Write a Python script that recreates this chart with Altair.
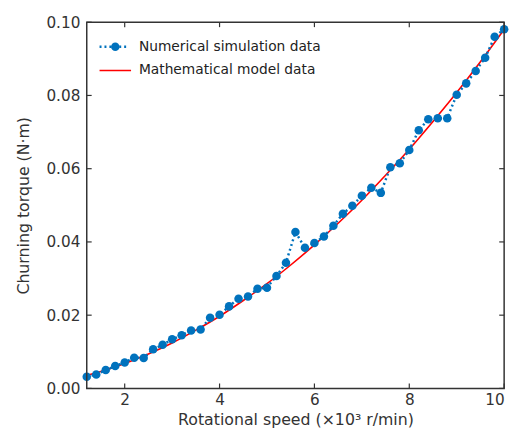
import altair as alt
import pandas as pd

# Numerical simulation data (x in 10^3 r/min, torque in N·m)
sim_x = [1.2, 1.4, 1.6, 1.8, 2.0, 2.2, 2.4, 2.6, 2.8, 3.0, 3.2, 3.4, 3.6, 3.8, 4.0,
         4.2, 4.4, 4.6, 4.8, 5.0, 5.2, 5.4, 5.6, 5.8, 6.0, 6.2, 6.4, 6.6, 6.8, 7.0,
         7.2, 7.4, 7.6, 7.8, 8.0, 8.2, 8.4, 8.6, 8.8, 9.0, 9.2, 9.4, 9.6, 9.8, 10.0]
sim_y = [0.0032, 0.0038, 0.0050, 0.0061, 0.0071, 0.0084, 0.0083, 0.0107, 0.0119, 0.0134,
         0.0145, 0.0158, 0.0161, 0.0193, 0.0201, 0.0224, 0.0245, 0.0251, 0.0272, 0.0275,
         0.0307, 0.0343, 0.0427, 0.0384, 0.0397, 0.0415, 0.0444, 0.0477, 0.0499, 0.0526,
         0.0548, 0.0534, 0.0604, 0.0615, 0.0651, 0.0705, 0.0735, 0.0738, 0.0738, 0.0802,
         0.0833, 0.0867, 0.0903, 0.0960, 0.0981]

# Mathematical model data
model_x = [1.2, 1.6, 2.0, 2.5, 3.0, 3.5, 4.0, 4.5, 5.0, 5.5, 6.0, 6.5, 7.0, 7.5, 8.0,
           8.5, 9.0, 9.5, 10.0]
model_y = [0.0035, 0.0050, 0.0068, 0.0094, 0.0124, 0.0159, 0.0197, 0.0240, 0.0286, 0.0337,
           0.0392, 0.0451, 0.0514, 0.0582, 0.0653, 0.0729, 0.0808, 0.0892, 0.0980]

x_ticks = [2, 4, 6, 8, 10]
y_ticks = [0.0, 0.02, 0.04, 0.06, 0.08, 0.10]
legend_labels = ["Numerical simulation data", "Mathematical model data"]

W, H = 424, 372
BLUE = "#0072BD"
RED = "#FF0000"
TXT = "#333333"
FONT = "DejaVu Sans"

sim = pd.DataFrame({"x": sim_x, "y": sim_y})
model = pd.DataFrame({"x": model_x, "y": model_y})
xt = pd.DataFrame({"v": x_ticks})
yt = pd.DataFrame({"v": y_ticks})
leg_df = pd.DataFrame({"t": legend_labels})

xscale = alt.Scale(domain=[1.2, 10], nice=False, zero=False)
yscale = alt.Scale(domain=[0, 0.1], nice=False)

common_axis = dict(ticks=False, domain=False, grid=False,
                   labelFont=FONT, titleFont=FONT, labelFontSize=15.5, titleFontSize=16,
                   labelColor=TXT, titleColor=TXT, titleFontWeight="normal")
xax = alt.Axis(values=x_ticks, labelPadding=4, title="Rotational speed (×10³ r/min)",
               titlePadding=4, **common_axis)
yax = alt.Axis(values=y_ticks, format=".2f", labelPadding=7, title="Churning torque (N·m)",
               titlePadding=15, **common_axis)

frame = alt.Chart(leg_df.iloc[[0]]).mark_rect(fill=None, stroke="#333333", strokeWidth=1.5).encode(
    x=alt.value(0), x2=alt.value(W), y=alt.value(0), y2=alt.value(H))

sim_line = alt.Chart(sim).mark_line(color=BLUE, strokeWidth=2.5, strokeDash=[2, 3]).encode(
    x=alt.X("x:Q", scale=xscale, axis=xax),
    y=alt.Y("y:Q", scale=yscale, axis=yax),
)
sim_pts = alt.Chart(sim).mark_circle(color=BLUE, size=75, opacity=1).encode(
    x=alt.X("x:Q", scale=xscale), y=alt.Y("y:Q", scale=yscale)
)
model_line = alt.Chart(model).mark_line(color=RED, strokeWidth=1.6, interpolate="monotone").encode(
    x=alt.X("x:Q", scale=xscale), y=alt.Y("y:Q", scale=yscale)
)

tk = dict(color="#333333", strokeWidth=1.2)
bot_t = alt.Chart(xt).mark_rule(**tk).encode(x=alt.X("v:Q", scale=xscale), y=alt.value(H), y2=alt.value(H - 5))
top_t = alt.Chart(xt).mark_rule(**tk).encode(x=alt.X("v:Q", scale=xscale), y=alt.value(0), y2=alt.value(5))
left_t = alt.Chart(yt).mark_rule(**tk).encode(y=alt.Y("v:Q", scale=yscale), x=alt.value(0), x2=alt.value(5))
right_t = alt.Chart(yt).mark_rule(**tk).encode(y=alt.Y("v:Q", scale=yscale), x=alt.value(W), x2=alt.value(W - 5))

# legend
leg_sim_line = alt.Chart(leg_df.iloc[[0]]).mark_rule(color=BLUE, strokeWidth=2.5, strokeDash=[2, 3]).encode(
    x=alt.value(13), x2=alt.value(43), y=alt.value(25))
leg_sim_pt = alt.Chart(leg_df.iloc[[0]]).mark_circle(color=BLUE, size=75, opacity=1).encode(
    x=alt.value(29), y=alt.value(25))
leg_mod_line = alt.Chart(leg_df.iloc[[1]]).mark_rule(color=RED, strokeWidth=1.6).encode(
    x=alt.value(13), x2=alt.value(45), y=alt.value(49))
leg_txt1 = alt.Chart(leg_df.iloc[[0]]).mark_text(align="left", baseline="middle", font=FONT,
                                                fontSize=14, color="#222222").encode(
    x=alt.value(53), y=alt.value(25), text="t:N")
leg_txt2 = alt.Chart(leg_df.iloc[[1]]).mark_text(align="left", baseline="middle", font=FONT,
                                                fontSize=14, color="#222222").encode(
    x=alt.value(53), y=alt.value(49), text="t:N")

chart = alt.layer(
    model_line, sim_line, sim_pts, frame, bot_t, top_t, left_t, right_t,
    leg_sim_line, leg_sim_pt, leg_mod_line, leg_txt1, leg_txt2,
).properties(
    width=W, height=H,
    background="white",
    autosize=alt.AutoSizeParams(type="none"),
    padding={"left": 80, "top": 11, "right": 9, "bottom": 51},
).configure_view(
    strokeWidth=0
)

chart.save("out.html", embed_options={"renderer": "svg", "actions": False})
